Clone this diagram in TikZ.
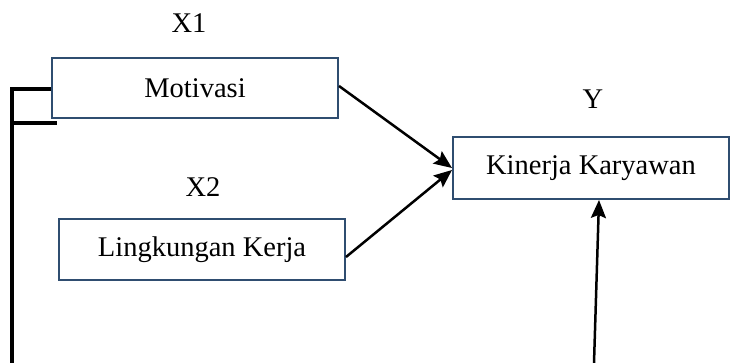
\documentclass[tikz,border=0pt]{standalone}
\usepackage{fontspec}
\setmainfont{Liberation Serif}
\usetikzlibrary{arrows.meta}
\definecolor{boxcol}{RGB}{47,77,112}
\begin{document}
\begin{tikzpicture}[x=1pt,y=-1pt,
  varbox/.style={draw=boxcol,line width=2pt,fill=white,inner sep=0pt,
    font=\fontsize{28.5}{34}\selectfont},
  lbl/.style={inner sep=0pt,font=\fontsize{28.5}{34}\selectfont},
  arr/.style={line width=2.5pt,-{Stealth[length=18pt,width=15pt,inset=3pt]}},
  brk/.style={line width=4pt}]
\useasboundingbox (0,0) rectangle (731,363);
\node[varbox,minimum width=286pt,minimum height=60pt] (mot) at (195,88) {Motivasi};
\node[varbox,minimum width=286pt,minimum height=61pt] (ling) at (202,250) {Lingkungan Kerja};
\node[varbox,minimum width=276pt,minimum height=62pt] (kin) at (591,168) {Kinerja Karyawan};
\node[lbl] (x1) at (189,23) {X1};
\node[lbl] (x2) at (203,187) {X2};
\node[lbl] (y) at (593,99) {Y};
\coordinate (bot) at (12,363);
\coordinate (b2s) at (12,123);
\coordinate (b2e) at (57,123);
\coordinate (vb) at (594,363);
\draw[brk] ([yshift=-1pt]mot.west) -| (bot);
\draw[brk] (b2s) -- (b2e);
\draw[arr] ([yshift=2pt]mot.east) -- (kin.west);
\draw[arr] ([yshift=-7pt]ling.east) -- ([yshift=-2pt]kin.west);
\draw[arr] (vb) -- ([xshift=8pt]kin.south);
\end{tikzpicture}
\end{document}
